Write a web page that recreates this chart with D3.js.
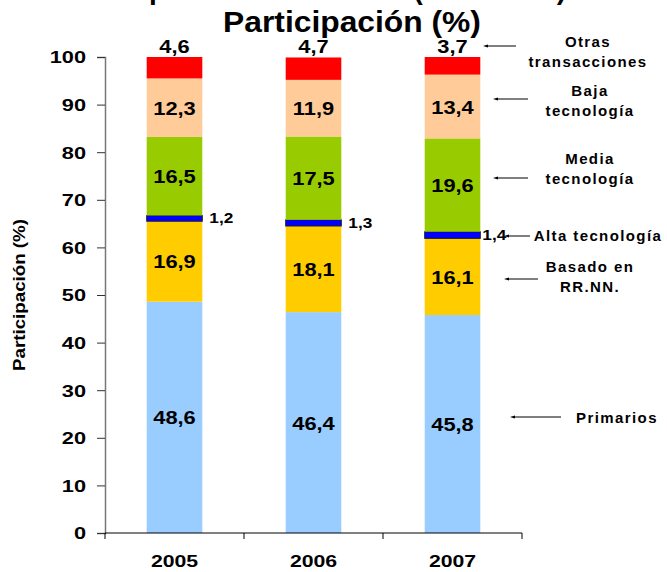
<!DOCTYPE html>
<html>
<head>
<meta charset="utf-8">
<script src="https://cdn.jsdelivr.net/npm/d3@7"></script>
<style>
  body { margin: 0; background: #fff; }
  svg text { font-family: "Liberation Sans", Arial, sans-serif; font-weight: bold; fill: #000; }
</style>
</head>
<body>
<svg width="667" height="572"></svg>
<script>
// data
const years = ['2005', '2006', '2007'];
const seriesKeys = ['prim', 'rrnn', 'alta', 'media', 'baja', 'otras'];
const primarios = [48.6, 46.4, 45.8];
const basadoRRNN = [16.9, 18.1, 16.1];
const altaTec = [1.2, 1.3, 1.4];
const mediaTec = [16.5, 17.5, 19.6];
const bajaTec = [12.3, 11.9, 13.4];
const otras = [4.6, 4.7, 3.7];
const yTicks = [0, 10, 20, 30, 40, 50, 60, 70, 80, 90, 100];
const legendLines = [
    ['Otras', 'transacciones'],
    ['Baja', 'tecnología'],
    ['Media', 'tecnología'],
    ['Alta tecnología'],
    ['Basado en', 'RR.NN.'],
    ['Primarios']
];

const colors = {
    prim: '#99CCFF', rrnn: '#FFCC00', alta: '#0000FF',
    media: '#99CC00', baja: '#FFCC99', otras: '#FF0000'
};

let table = years.map((yr, i) => ({
    year: yr, prim: primarios[i], rrnn: basadoRRNN[i], alta: altaTec[i],
    media: mediaTec[i], baja: bajaTec[i], otras: otras[i]
}));

let svg = d3.select('svg');
const plotLeft = 105, plotRight = 522, plotTop = 57, plotBottom = 533;

// the original text is drawn a bit wider than normal, so stretch it sideways
function stretch(sel, sx) {
    sel.each(function() {
        let t = d3.select(this);
        let tx = +t.attr('x') || 0, ty = +t.attr('y') || 0;
        t.attr('transform', `translate(${tx},${ty}) scale(${sx},1)`)
            .attr('x', 0).attr('y', 0);
    });
}

let x = d3.scaleBand().domain(years).range([plotLeft, plotRight]).paddingInner(0.6).paddingOuter(0.3);
let y = d3.scaleLinear().domain([0, 100]).range([plotBottom, plotTop]);

let stacked = d3.stack().keys(seriesKeys)(table);

// bars
let layers = svg.append('g').selectAll('g')
    .data(stacked)
    .enter().append('g')
        .attr('fill', d => colors[d.key]);

layers.selectAll('rect')
    .data(d => d.map(p => Object.assign(p, {key: d.key})))
    .enter().append('rect')
        .attr('x', d => x(d.data.year))
        .attr('width', x.bandwidth())
        .attr('y', d => y(Math.min(d[1], 100)))
        .attr('height', d => y(d[0]) - y(Math.min(d[1], 100)))
        .attr('stroke', d => d.key === 'alta' ? '#1a1a33' : 'none')
        .attr('stroke-width', d => d.key === 'alta' ? 1 : 0);

// value labels
let labels = svg.append('g');
stacked.forEach(layer => {
    layer.forEach(p => {
        let val = p.data[layer.key];
        let txt = d3.format('.1f')(val).replace('.', ',');
        let cx = x(p.data.year) + x.bandwidth() / 2;
        if (layer.key === 'otras') {
            labels.append('text').text(txt)
                .attr('x', cx).attr('y', plotTop - 4)
                .attr('text-anchor', 'middle').style('font-size', '19px');
        } else if (layer.key === 'alta') {
            labels.append('text').text(txt)
                .attr('x', x(p.data.year) + x.bandwidth() + (p.data.year === '2007' ? 2 : 7))
                .attr('y', y((p[0] + p[1]) / 2) + 5)
                .style('font-size', '15px');
        } else {
            labels.append('text').text(txt)
                .attr('x', cx).attr('y', y((p[0] + p[1]) / 2) + 7)
                .attr('text-anchor', 'middle').style('font-size', '19px');
        }
    });
});
stretch(labels.selectAll('text'), 1.15);

// axes
let yAxis = d3.axisLeft(y).tickValues(yTicks).tickSize(8).tickPadding(11);
svg.append('g')
    .attr('transform', `translate(${plotLeft},0)`)
    .call(yAxis)
    .call(g => g.select('.domain').attr('stroke', '#777').attr('stroke-width', 1.5))
    .call(g => g.selectAll('.tick line').attr('stroke', '#333'))
    .call(g => g.selectAll('.tick text')
        .style('font-size', '17px').attr('dy', '0.35em')
        .style('font-family', '"Liberation Sans", Arial, sans-serif').style('font-weight', 'bold'))
    .call(g => stretch(g.selectAll('.tick text'), 1.28));

let xTickPos = d3.scaleLinear().domain([0, 3]).range([plotLeft, plotRight]);
svg.append('line')
    .attr('x1', plotLeft).attr('x2', plotRight)
    .attr('y1', plotBottom).attr('y2', plotBottom)
    .attr('stroke', '#000');
svg.append('g').selectAll('line')
    .data([0, 1, 2, 3])
    .enter().append('line')
        .attr('x1', d => xTickPos(d)).attr('x2', d => xTickPos(d))
        .attr('y1', plotBottom).attr('y2', plotBottom + 6)
        .attr('stroke', '#000');
let yearLabels = svg.append('g').selectAll('text')
    .data(years)
    .enter().append('text')
        .text(d => d)
        .attr('x', d => x(d) + x.bandwidth() / 2)
        .attr('y', 567)
        .attr('text-anchor', 'middle')
        .style('font-size', '17px');
stretch(yearLabels, 1.25);

// axis title
svg.append('text')
    .text('Participación (%)')
    .attr('transform', 'translate(25,295) rotate(-90) scale(1.17,1)')
    .attr('text-anchor', 'middle')
    .style('font-size', '16px');

// chart title (first line is cut off at the top)
svg.append('text')
    .text('Exportaciones totales (2005-2007)')
    .attr('x', 566).attr('y', -1)
    .attr('text-anchor', 'end')
    .style('font-size', '28px');
let title = svg.append('text')
    .text('Participación (%)')
    .attr('x', 352).attr('y', 32)
    .attr('text-anchor', 'middle')
    .style('font-size', '30px');
stretch(title, 1.06);

// right side labels with arrows
svg.append('defs').append('marker')
    .attr('id', 'arrow')
    .attr('viewBox', '0 0 10 10')
    .attr('refX', 0).attr('refY', 5)
    .attr('markerWidth', 5).attr('markerHeight', 5)
    .attr('orient', 'auto-start-reverse')
  .append('path')
    .attr('d', 'M0,2 L10,5 L0,8 z')
    .attr('fill', '#000');

const legendText = [
    {ty: 47, tx: 588, ax1: 488, ax2: 516, ay: 46},
    {ty: 96, tx: 590, ax1: 498, ax2: 528, ay: 99},
    {ty: 164, tx: 590, ax1: 498, ax2: 528, ay: 178},
    {ty: 241, tx: 598, ax1: 509, ax2: 530, ay: 236},
    {ty: 272, tx: 590, ax1: 509, ax2: 538, ay: 279},
    {ty: 423, tx: 617, ax1: 515, ax2: 561, ay: 417}
];

legendLines.forEach((lines, i) => {
    let pos = legendText[i];
    let t = svg.append('text')
        .attr('x', pos.tx).attr('y', pos.ty)
        .attr('text-anchor', 'middle')
        .style('font-size', '15px')
        .style('letter-spacing', '1.4px');
    lines.forEach((ln, j) => {
        t.append('tspan').text(ln).attr('x', pos.tx).attr('dy', j === 0 ? 0 : 20);
    });
    svg.append('line')
        .attr('x1', pos.ax2).attr('x2', pos.ax1)
        .attr('y1', pos.ay).attr('y2', pos.ay)
        .attr('stroke', '#000').attr('stroke-width', 1)
        .attr('marker-end', 'url(#arrow)');
});
</script>
</body>
</html>
